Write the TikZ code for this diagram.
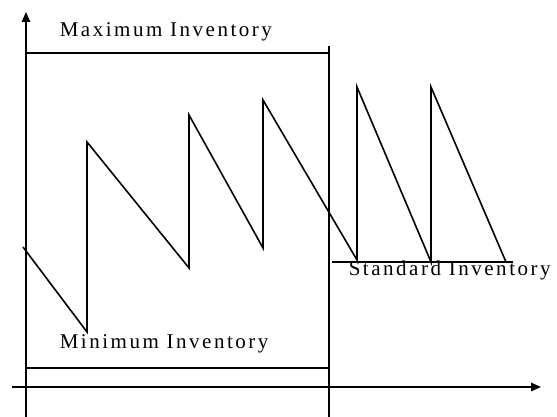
\documentclass[tikz,border=0pt]{standalone}
\usepackage{fontspec}
\setmainfont{Liberation Serif}
\newfontfamily\spacedfont[LetterSpace=12]{Liberation Serif}
\usetikzlibrary{arrows.meta}

\begin{document}
\begin{tikzpicture}[x=1pt, y=-1pt, line width=1.6pt,
	every node/.style={font=\spacedfont\fontsize{21}{25}\selectfont, inner sep=0pt},
	>={Triangle[length=10pt,width=8.5pt]}]
	\useasboundingbox (0,0) rectangle (557,417);
	% axes
	\coordinate (origin) at (26,417);
	\coordinate (ytop) at (26,12);
	\coordinate (xleft) at (12,387);
	\coordinate (xright) at (541,387);
	\draw[->] (origin) -- (ytop);
	\draw[->] (xleft) -- (xright);
	% window of the planning period
	\coordinate (maxleft) at (26,53);
	\coordinate (maxright) at (329,53);
	\coordinate (minleft) at (26,368);
	\coordinate (minright) at (329,368);
	\coordinate (wintop) at (329,46);
	\coordinate (winbot) at (329,417);
	\draw (maxleft) -- (maxright);
	\draw (minleft) -- (minright);
	\draw (wintop) -- (winbot);
	\coordinate (stdleft) at (332,262);
	\coordinate (stdright) at (513,262);
	\draw (stdleft) -- (stdright);
	% stock level
	\draw (23,247) -- (87,332) -- (87,142) -- (189,268) -- (189,115) -- (263,248)
		-- (263,100) -- (357,260) -- (357,87) -- (431,262) -- (431,87) -- (506,262);
	% labels
	\node[anchor=base west] (maxlabel) at (59,37) {Maximum Inventory};
	\node[anchor=base west] (minlabel) at (59,348) {Minimum Inventory};
	\node[anchor=base west] (stdlabel) at (348,275) {Standard Inventory};
\end{tikzpicture}
\end{document}
